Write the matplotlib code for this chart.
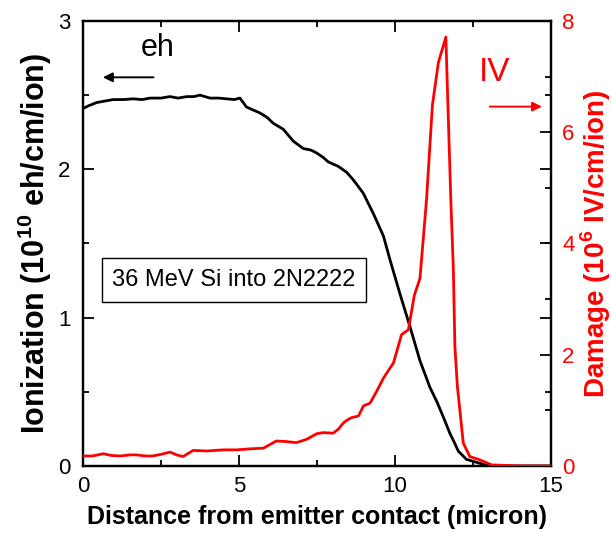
import matplotlib
matplotlib.use("Agg")
import matplotlib.pyplot as plt
from matplotlib.ticker import MultipleLocator

plt.rcParams['font.family'] = ['Liberation Sans', 'DejaVu Sans']
plt.rcParams['mathtext.fontset'] = 'custom'
plt.rcParams['mathtext.rm'] = 'Liberation Sans'
plt.rcParams['mathtext.bf'] = 'Liberation Sans:bold'

# Ionization (10^10 eh/cm/ion) vs depth (micron)
eh_x = [0.0, 0.2, 0.44, 0.7, 0.97, 1.3, 1.61, 1.9, 2.15, 2.5, 2.79, 3.05, 3.32, 3.55, 3.75,
        4.07, 4.35, 4.6, 4.85, 5.03, 5.24, 5.45, 5.67, 5.9, 6.1, 6.42, 6.74, 7.06, 7.3, 7.49,
        7.7, 7.86, 8.18, 8.45, 8.66, 8.98, 9.31, 9.63, 9.84, 10.16, 10.48, 10.8, 11.12, 11.35,
        11.55, 11.76, 11.9, 12.03, 12.29, 12.72, 13.0, 14.0, 15.0]
eh_y = [2.41, 2.43, 2.45, 2.46, 2.47, 2.47, 2.475, 2.47, 2.48, 2.48, 2.49, 2.48, 2.49, 2.49, 2.50,
        2.48, 2.48, 2.475, 2.47, 2.48, 2.42, 2.40, 2.38, 2.35, 2.31, 2.27, 2.19, 2.14, 2.13, 2.11,
        2.08, 2.05, 2.02, 1.98, 1.93, 1.84, 1.70, 1.55, 1.39, 1.16, 0.94, 0.71, 0.53, 0.43,
        0.33, 0.22, 0.16, 0.10, 0.045, 0.018, 0.0, 0.0, 0.0]

# Damage (10^6 IV/cm/ion) vs depth (micron)
iv_x = [0.0, 0.3, 0.65, 0.9, 1.19, 1.5, 1.7, 2.0, 2.23, 2.5, 2.79, 3.0, 3.21, 3.53, 3.97,
        4.5, 4.92, 5.4, 5.78, 6.2, 6.5, 6.84, 7.17, 7.49, 7.7, 8.02, 8.18, 8.34, 8.45, 8.61,
        8.77, 8.83, 8.99, 9.2, 9.41, 9.63, 9.84, 9.95, 10.21, 10.43, 10.62, 10.8, 11.01, 11.2,
        11.39, 11.63, 11.79, 11.87, 11.92, 12.0, 12.19, 12.4, 12.72, 13.1, 14.0, 15.0]
iv_y = [0.18, 0.18, 0.22, 0.19, 0.18, 0.2, 0.2, 0.18, 0.18, 0.21, 0.25, 0.2, 0.17, 0.28, 0.27,
        0.29, 0.29, 0.31, 0.32, 0.45, 0.44, 0.42, 0.48, 0.58, 0.60, 0.59, 0.66, 0.77, 0.82, 0.87,
        0.89, 0.90, 1.08, 1.13, 1.34, 1.58, 1.76, 1.85, 2.36, 2.45, 3.07, 3.37, 4.78, 6.49,
        7.25, 7.71, 4.78, 3.55, 2.15, 1.43, 0.41, 0.17, 0.11, 0.02, 0.0, 0.0]

fig = plt.figure(figsize=(6.12, 5.33), dpi=100)
ax = fig.add_axes([0.1356, 0.1257, 0.7647, 0.835])
ax2 = ax.twinx()

ax.plot(eh_x, eh_y, color='black', lw=2.0, zorder=3)
ax2.plot(iv_x, iv_y, color='#ff0000', lw=2.0, zorder=3)

ax.set_xlim(0, 15)
ax.set_ylim(0, 3)
ax2.set_ylim(0, 8)

ax.xaxis.set_major_locator(MultipleLocator(5))
ax.xaxis.set_minor_locator(MultipleLocator(2.5))
ax.yaxis.set_major_locator(MultipleLocator(1))
ax.yaxis.set_minor_locator(MultipleLocator(0.5))
ax2.yaxis.set_major_locator(MultipleLocator(2))
ax2.yaxis.set_minor_locator(MultipleLocator(1))

ax.tick_params(axis='x', which='both', direction='in', top=True, bottom=True, labelsize=16, pad=7)
ax.tick_params(axis='y', which='both', direction='in', left=True, right=True, labelsize=16, pad=9)
ax.tick_params(which='major', length=8, width=1.3)
ax.tick_params(which='minor', length=4, width=1.3)
ax2.tick_params(axis='y', which='both', direction='in', labelsize=16, labelcolor='#ff0000', pad=8)
ax2.tick_params(which='major', length=8, width=1.3)
ax2.tick_params(which='minor', length=4, width=1.3)

for sp in list(ax.spines.values()) + list(ax2.spines.values()):
    sp.set_linewidth(1.6)

ax.set_xlabel('Distance from emitter contact (micron)', fontsize=18, fontweight='bold', labelpad=6)
ax.set_ylabel(r'Ionization (10$^{\mathbf{10}}$ eh/cm/ion)', fontsize=22, fontweight='bold', labelpad=3)
ax2.set_ylabel(r'Damage (10$^{\mathbf{6}}$ IV/cm/ion)', fontsize=20, fontweight='bold',
               color='#ff0000', labelpad=3)

# eh annotation
ax.text(2.4, 2.82, 'eh', fontsize=22, ha='center', va='center')
ax.annotate('', xy=(0.55, 2.62), xytext=(2.35, 2.62),
            arrowprops=dict(arrowstyle='-|>', color='black', lw=1.4, mutation_scale=14))

# IV annotation
ax2.text(13.2, 7.07, 'IV', fontsize=24, ha='center', va='center', color='#ff0000')
ax2.annotate('', xy=(14.8, 6.46), xytext=(12.95, 6.46),
             arrowprops=dict(arrowstyle='-|>', color='#ff0000', lw=1.4, mutation_scale=14))

ax.text(4.84, 1.254, '36 MeV Si into 2N2222', fontsize=17, ha='center', va='center',
        bbox=dict(boxstyle='square,pad=0.45', fc='white', ec='black', lw=1.0))

fig.savefig('out.png', dpi=100)
